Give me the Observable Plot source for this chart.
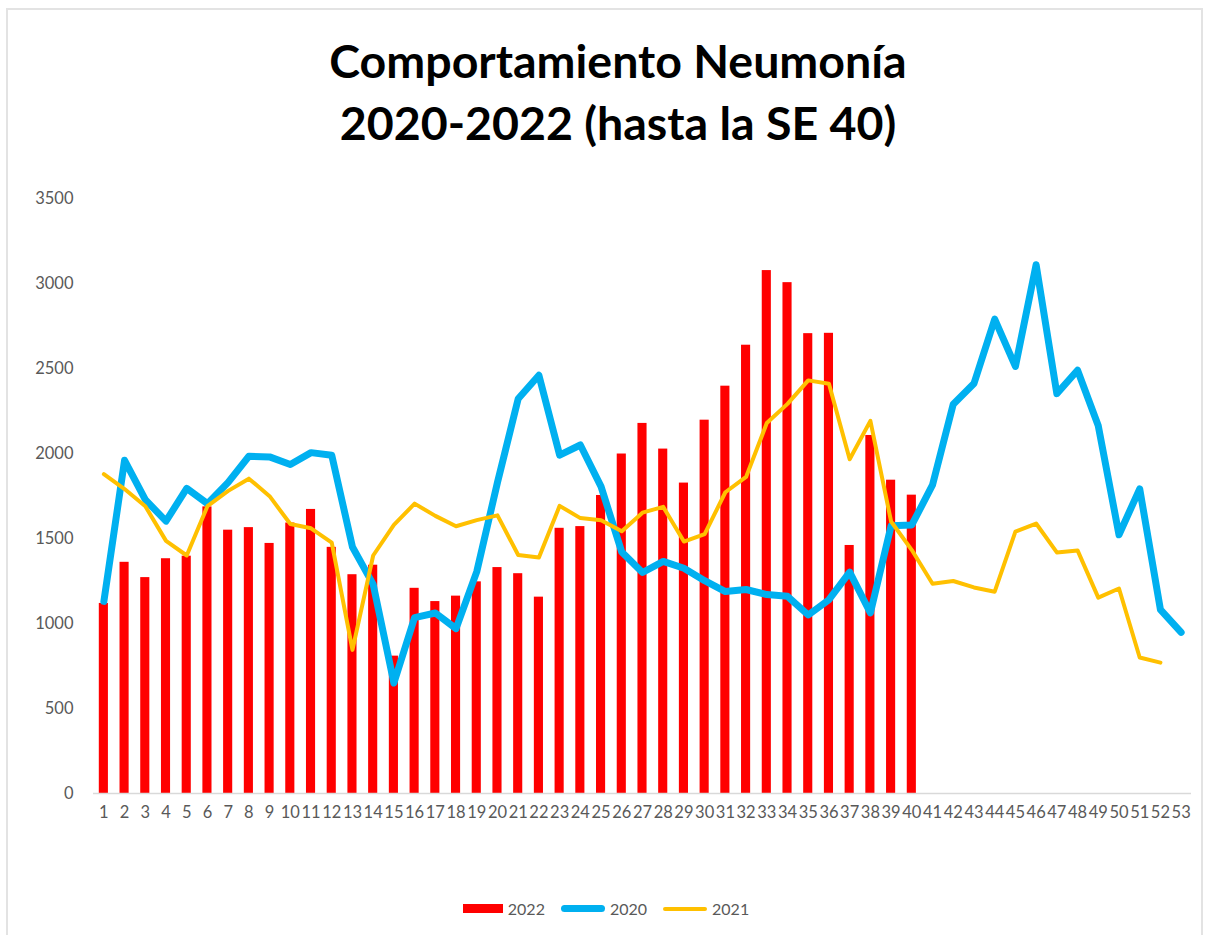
<!DOCTYPE html>
<html>
<head>
<meta charset="utf-8">
<script src="https://cdn.jsdelivr.net/npm/d3@7"></script>
<script src="https://cdn.jsdelivr.net/npm/@observablehq/plot@0.6"></script>
<style>
  html, body { margin: 0; padding: 0; background: #fff; }
  body { width: 1212px; height: 935px; position: relative; overflow: hidden; font-family: "Lato", "Open Sans", sans-serif; }
  #frame { position: absolute; left: 6px; top: 8px; width: 1197px; height: 940px; border: 2px solid #e3e3e3; box-sizing: border-box; }
  #title { position: absolute; left: 12px; top: 29px; width: 1212px; text-align: center; font-weight: 700; font-size: 46.5px; line-height: 62px; color: #000; white-space: pre; }
  #chart { position: absolute; left: 0; top: 170px; }
  #legend { position: absolute; left: 0; top: 899px; width: 1212px; display: flex; justify-content: center; align-items: center; gap: 0; font-size: 16px; color: #595959; }
  .item { display: flex; align-items: center; margin: 0 8px; }
  .sw { display: inline-block; margin-right: 5px; }
</style>
</head>
<body>
<div id="frame"></div>
<div id="title">Comportamiento Neumonía
2020-2022 (hasta la SE 40)</div>
<div id="chart"></div>
<div id="legend"></div>
<script>
const weeks = [1,2,3,4,5,6,7,8,9,10,11,12,13,14,15,16,17,18,19,20,21,22,23,24,25,26,27,28,29,30,31,32,33,34,35,36,37,38,39,40,41,42,43,44,45,46,47,48,49,50,51,52,53];
const yTicks = [0,500,1000,1500,2000,2500,3000,3500];
const series2022 = [1118,1360,1270,1381,1396,1686,1549,1564,1471,1591,1671,1448,1287,1343,808,1207,1129,1161,1245,1329,1293,1155,1560,1570,1753,1997,2177,2026,1826,2196,2396,2637,3076,3005,2705,2707,1459,2106,1843,1755];
const series2020 = [1130,1960,1728,1602,1795,1705,1830,1984,1980,1935,2005,1990,1450,1230,650,1035,1062,970,1305,1830,2322,2460,1990,2050,1805,1420,1300,1365,1325,1252,1188,1200,1170,1160,1050,1140,1302,1062,1575,1580,1815,2290,2412,2790,2512,3110,2352,2490,2163,1522,1792,1082,948];
const series2021 = [1879,1791,1690,1486,1400,1690,1780,1852,1749,1585,1560,1476,845,1400,1580,1705,1633,1572,1608,1636,1403,1388,1692,1620,1608,1543,1652,1686,1482,1526,1772,1862,2179,2292,2430,2410,1966,2192,1600,1432,1234,1250,1212,1187,1540,1588,1418,1430,1152,1206,800,770];
const seriesNames = ["2022","2020","2021"];
const colors = {"2022": "#FF0000", "2020": "#00B0F0", "2021": "#FFC000"};

const bars = series2022.map((v, i) => ({week: weeks[i], value: v}));
const l2020 = series2020.map((v, i) => ({week: weeks[i], value: v}));
const l2021 = series2021.map((v, i) => ({week: weeks[i], value: v}));

const chart = Plot.plot({
  width: 1212,
  height: 700,
  marginLeft: 93,
  marginRight: 21,
  marginTop: 28,
  marginBottom: 77,
  style: {fontFamily: "Lato, 'Open Sans', sans-serif", fontSize: "16.5px", color: "#595959", background: "transparent"},
  x: {type: "band", domain: weeks, paddingInner: 0.56, paddingOuter: 0.28, label: null},
  y: {domain: [0, 3500], ticks: yTicks, label: null},
  marks: [
    Plot.barY(bars, {x: "week", y: "value", fill: colors["2022"]}),
    Plot.ruleY([0], {stroke: "#d9d9d9", strokeWidth: 1.5}),
    Plot.lineY(l2020, {x: "week", y: "value", stroke: colors["2020"], strokeWidth: 7, strokeLinejoin: "round", strokeLinecap: "round"}),
    Plot.lineY(l2021, {x: "week", y: "value", stroke: colors["2021"], strokeWidth: 4, strokeLinejoin: "round", strokeLinecap: "round"}),
    Plot.axisY({ticks: yTicks, tickFormat: d => String(d), tickSize: 0, tickPadding: 20, label: null, fill: "#595959"}),
    Plot.axisX({tickSize: 0, tickPadding: 13, label: null, fill: "#595959"})
  ]
});
document.getElementById("chart").appendChild(chart);

const legend = document.getElementById("legend");
seriesNames.forEach(name => {
  const item = document.createElement("div");
  item.className = "item";
  const sw = document.createElement("span");
  sw.className = "sw";
  if (name === "2022") {
    sw.style.cssText = "width:40px;height:9px;background:" + colors[name] + ";";
  } else if (name === "2020") {
    sw.style.cssText = "width:44px;height:7px;border-radius:4px;background:" + colors[name] + ";";
  } else {
    sw.style.cssText = "width:44px;height:4px;border-radius:2px;background:" + colors[name] + ";";
  }
  const t = document.createElement("span");
  t.textContent = name;
  item.appendChild(sw);
  item.appendChild(t);
  legend.appendChild(item);
});
</script>
</body>
</html>
